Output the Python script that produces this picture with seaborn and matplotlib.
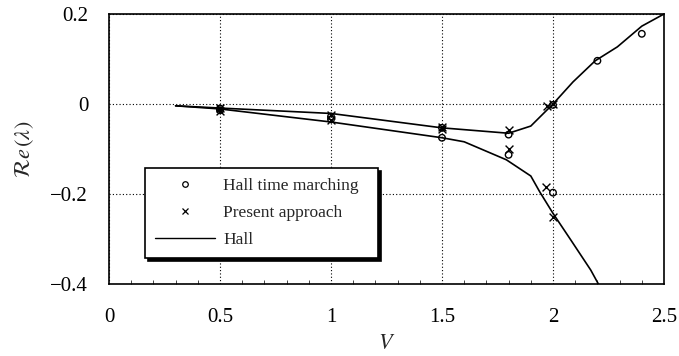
import matplotlib
matplotlib.use("Agg")
import matplotlib.pyplot as plt
import seaborn as sns
import pandas as pd
from matplotlib.ticker import MultipleLocator
from matplotlib.lines import Line2D

# Hall (continuous curves), two branches
hall_upper_v = [0.3, 0.5, 1.0, 1.5, 1.8, 1.9, 2.0, 2.09, 2.19, 2.29, 2.40, 2.5]
hall_upper_re = [-0.004, -0.009, -0.021, -0.053, -0.065, -0.049, 0.0, 0.049, 0.096, 0.127, 0.173, 0.2]
hall_lower_v = [0.3, 0.5, 1.0, 1.5, 1.6, 1.79, 1.9, 1.94, 2.0, 2.08, 2.17, 2.21]
hall_lower_re = [-0.004, -0.011, -0.040, -0.075, -0.084, -0.124, -0.160, -0.195, -0.243, -0.302, -0.369, -0.405]

# Hall time marching (circles)
march_v = [0.5, 0.5, 1.0, 1.0, 1.5, 1.5, 1.8, 1.8, 2.0, 2.0, 2.2, 2.4]
march_re = [-0.010, -0.014, -0.028, -0.034, -0.053, -0.075, -0.068, -0.113, -0.002, -0.197, 0.096, 0.156]

# Present approach (crosses)
present_v = [0.5, 0.5, 1.0, 1.0, 1.5, 1.5, 1.8, 1.8, 1.975, 2.0, 1.97, 2.0]
present_re = [-0.008, -0.015, -0.024, -0.035, -0.050, -0.055, -0.057, -0.100, -0.005, 0.0, -0.184, -0.252]

x_ticks = [0, 0.5, 1, 1.5, 2, 2.5]
x_labels = ["0", "0.5", "1", "1.5", "2", "2.5"]
y_ticks = [-0.4, -0.2, 0, 0.2]
y_labels = ["\u22120.4", "\u22120.2", "0", "0.2"]

sns.set_theme(style="white")
plt.rcParams["font.family"] = ["Liberation Serif", "DejaVu Serif"]
plt.rcParams["mathtext.fontset"] = "stix"

hall = pd.DataFrame({
    "V": hall_upper_v + hall_lower_v,
    "Re": hall_upper_re + hall_lower_re,
    "branch": ["upper"] * len(hall_upper_v) + ["lower"] * len(hall_lower_v),
})
march = pd.DataFrame({"V": march_v, "Re": march_re})
present = pd.DataFrame({"V": present_v, "Re": present_re})

fig = plt.figure(figsize=(6.79, 3.56), dpi=100)
ax = fig.add_axes([109 / 679, 1 - 284 / 356, 555 / 679, 270 / 356])

sns.lineplot(data=hall, x="V", y="Re", units="branch", estimator=None, sort=False,
             color="black", linewidth=1.2, ax=ax, legend=False)
sns.scatterplot(data=march, x="V", y="Re", marker="o", s=22, facecolor="none",
                edgecolor="black", linewidth=1.0, ax=ax, zorder=4)
sns.scatterplot(data=present, x="V", y="Re", marker="x", s=32, color="black",
                linewidth=1.0, ax=ax, zorder=4)

ax.set_xlim(0, 2.5)
ax.set_ylim(-0.4, 0.2)
ax.set_xticks(x_ticks)
ax.set_xticklabels(x_labels)
ax.set_yticks(y_ticks)
ax.set_yticklabels(y_labels)
ax.xaxis.set_minor_locator(MultipleLocator(0.1))
ax.tick_params(axis="both", which="major", direction="inout", length=14, width=1.0,
               labelsize=15, colors="black")
ax.tick_params(axis="x", which="major", pad=10)
ax.tick_params(axis="y", which="major", pad=8)
ax.tick_params(axis="x", which="minor", direction="in", length=3, width=0.6, bottom=True)
ax.grid(True, which="major", linestyle=(0, (1, 2)), color="black", linewidth=0.8)

for side in ["top", "bottom", "left", "right"]:
    ax.spines[side].set_visible(True)
    ax.spines[side].set_color("black")
    ax.spines[side].set_linewidth(1.2)

ax.set_xlabel("$V$", fontsize=16, labelpad=6)
ax.set_ylabel(r"$\mathcal{R}e\,(\lambda)$", fontsize=16, labelpad=10)

handles = [
    Line2D([], [], marker="o", linestyle="none", markersize=4, markerfacecolor="none",
           markeredgecolor="black", markeredgewidth=0.9),
    Line2D([], [], marker="x", linestyle="none", markersize=5, color="black", markeredgewidth=0.9),
    Line2D([], [], color="black", linewidth=1.0),
]
labels = ["Hall time marching", "Present approach", "Hall"]
leg = ax.legend(handles, labels, loc="upper left",
                bbox_to_anchor=(0.065, 0.0, 0.42, 0.43), mode="expand",
                borderaxespad=0, fontsize=12.5, frameon=True, fancybox=False,
                shadow={"color": "black", "alpha": 1.0}, handlelength=3.4,
                handletextpad=0.5, labelspacing=0.6, borderpad=0.6)
leg.get_frame().set_edgecolor("black")
leg.get_frame().set_linewidth(1.2)
leg.get_frame().set_alpha(1.0)

fig.savefig("out.png", dpi=100)
